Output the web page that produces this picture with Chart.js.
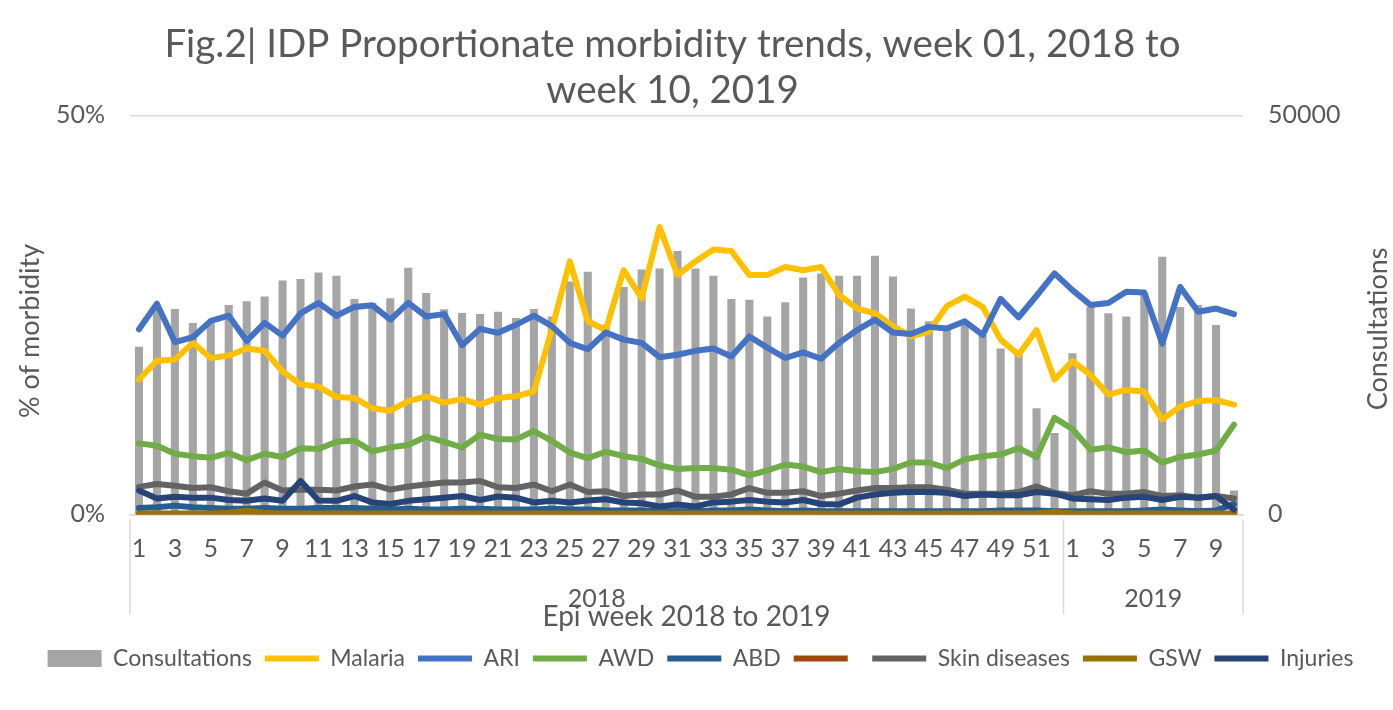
<!DOCTYPE html>
<html>
<head>
<meta charset="utf-8">
<script src="https://cdn.jsdelivr.net/npm/chart.js@4/dist/chart.umd.min.js"></script>
<style>
html,body{margin:0;padding:0;background:#fff;}
#wrap{width:1393px;height:710px;position:relative;}
</style>
</head>
<body>
<div id="wrap"><canvas id="c" width="1393" height="710"></canvas></div>
<script>
// ---- data ----
const years = ['2018', '2019'];
const weeks2018 = Array.from({length: 52}, (_, i) => String(i + 1));
const weeks2019 = ['1','2','3','4','5','6','7','8','9','10'];
const weekLabels = weeks2018.concat(weeks2019);

const consultations = [21000, 26000, 25750, 24000, 24000, 26250, 26700, 27300, 29300, 29500,
  30300, 29900, 27000, 26500, 27100, 30900, 27750, 25700, 25250, 25100,
  25400, 24600, 25750, 24800, 29200, 30400, 23800, 28500, 30700, 30800,
  33000, 30800, 29900, 27000, 26900, 24800, 26600, 29700, 30200, 29900,
  29900, 32400, 29800, 25800, 24200, 23100, 24000, 22500, 20800, 20000,
  13300, 10200,
  20200, 26000, 25200, 24800, 27700, 32300, 26000, 26250, 23750, 3000];

const malaria = [16.9, 19.25, 19.4, 21.5, 19.6, 19.9, 20.8, 20.5, 17.9, 16.3,
  16.0, 14.7, 14.6, 13.3, 13.0, 14.2, 14.8, 14.0, 14.45, 13.75,
  14.6, 14.8, 15.4, 23.2, 31.7, 24.2, 23.1, 30.6, 27.1, 36.0,
  30.0, 31.7, 33.2, 33.0, 30.0, 30.0, 31.0, 30.6, 31.0, 27.5,
  25.8, 25.2, 23.6, 22.3, 22.9, 26.1, 27.3, 26.0, 21.9, 20.0,
  23.1, 16.9,
  19.2, 17.5, 15.0, 15.6, 15.4, 11.9, 13.5, 14.2, 14.3, 13.75];

const ari = [23.2, 26.4, 21.6, 22.2, 24.25, 24.9, 21.75, 24.0, 22.4, 25.2,
  26.5, 24.9, 26.0, 26.2, 24.4, 26.5, 24.8, 25.1, 21.2, 23.25,
  22.75, 23.75, 24.9, 23.6, 21.5, 20.7, 22.8, 21.9, 21.5, 19.7,
  20.0, 20.5, 20.8, 19.8, 22.3, 20.9, 19.6, 20.3, 19.5, 21.5,
  23.1, 24.4, 22.8, 22.6, 23.5, 23.3, 24.2, 22.5, 27.0, 24.7,
  27.4, 30.2,
  28.1, 26.25, 26.5, 27.9, 27.8, 21.4, 28.5, 25.4, 25.8, 25.1];

const awd = [8.9, 8.6, 7.6, 7.3, 7.1, 7.7, 6.8, 7.6, 7.2, 8.3,
  8.2, 9.1, 9.25, 7.9, 8.4, 8.7, 9.75, 9.1, 8.4, 10.0,
  9.45, 9.4, 10.45, 9.2, 7.75, 7.05, 7.85, 7.3, 6.95, 6.15,
  5.7, 5.8, 5.8, 5.6, 4.9, 5.5, 6.25, 6.0, 5.3, 5.7,
  5.4, 5.3, 5.7, 6.5, 6.5, 5.8, 6.9, 7.3, 7.5, 8.3,
  7.2, 12.1,
  10.7, 8.1, 8.4, 7.8, 8.0, 6.5, 7.2, 7.5, 8.0, 11.25];

const abd = [0.8, 0.9, 1.1, 0.9, 0.8, 0.7, 0.7, 0.8, 0.7, 0.7,
  0.8, 0.8, 0.8, 0.7, 0.6, 0.7, 0.6, 0.6, 0.7, 0.7,
  0.6, 0.6, 0.6, 0.7, 0.6, 0.6, 0.5, 0.5, 0.5, 0.4,
  0.4, 0.4, 0.5, 0.5, 0.6, 0.5, 0.4, 0.5, 0.4, 0.4,
  0.4, 0.4, 0.4, 0.4, 0.4, 0.4, 0.4, 0.4, 0.5, 0.5,
  0.5, 0.4,
  0.4, 0.4, 0.4, 0.4, 0.5, 0.6, 0.5, 0.4, 0.5, 1.3];

const unnamed = [0.05, 0.05, 0.05, 0.05, 0.05, 0.05, 0.05, 0.05, 0.05, 0.05,
  0.05, 0.05, 0.05, 0.05, 0.05, 0.05, 0.05, 0.05, 0.05, 0.05,
  0.05, 0.05, 0.05, 0.05, 0.05, 0.05, 0.05, 0.05, 0.05, 0.05,
  0.05, 0.05, 0.05, 0.05, 0.05, 0.05, 0.05, 0.05, 0.05, 0.05,
  0.05, 0.05, 0.05, 0.05, 0.05, 0.05, 0.05, 0.05, 0.05, 0.05,
  0.05, 0.05,
  0.05, 0.05, 0.05, 0.05, 0.05, 0.05, 0.05, 0.05, 0.05, 0.05];

const skin = [3.45, 3.8, 3.6, 3.3, 3.4, 2.9, 2.6, 4.0, 3.0, 3.1,
  3.1, 3.0, 3.5, 3.75, 3.1, 3.5, 3.75, 4.0, 4.0, 4.2,
  3.4, 3.3, 3.75, 2.9, 3.75, 2.8, 2.9, 2.3, 2.5, 2.5,
  3.0, 2.2, 2.2, 2.5, 3.3, 2.7, 2.7, 2.9, 2.3, 2.6,
  3.0, 3.3, 3.3, 3.4, 3.4, 3.1, 2.6, 2.6, 2.6, 2.8,
  3.5, 2.7,
  2.4, 2.9, 2.6, 2.6, 2.8, 2.3, 2.4, 2.1, 2.3, 2.0];

const gsw = [0.1, 0.1, 0.1, 0.1, 0.1, 0.2, 0.45, 0.2, 0.1, 0.1,
  0.1, 0.1, 0.1, 0.1, 0.1, 0.1, 0.1, 0.1, 0.1, 0.1,
  0.1, 0.1, 0.1, 0.1, 0.1, 0.1, 0.1, 0.1, 0.1, 0.1,
  0.1, 0.1, 0.1, 0.1, 0.1, 0.1, 0.1, 0.1, 0.1, 0.1,
  0.1, 0.1, 0.1, 0.1, 0.1, 0.1, 0.1, 0.1, 0.1, 0.1,
  0.15, 0.3,
  0.1, 0.1, 0.1, 0.1, 0.1, 0.1, 0.1, 0.1, 0.1, 0.1];

const injuries = [3.0, 2.0, 2.2, 2.1, 2.1, 1.8, 1.7, 2.0, 1.7, 4.2,
  1.75, 1.7, 2.3, 1.5, 1.3, 1.7, 1.9, 2.1, 2.3, 1.8,
  2.25, 2.1, 1.5, 1.7, 1.5, 1.75, 1.9, 1.5, 1.4, 1.0,
  1.25, 1.0, 1.5, 1.6, 1.8, 1.6, 1.5, 1.8, 1.3, 1.25,
  2.1, 2.5, 2.7, 2.8, 2.8, 2.7, 2.3, 2.5, 2.4, 2.4,
  2.8, 2.6,
  2.0, 1.9, 1.8, 2.1, 2.2, 1.8, 2.2, 2.1, 2.3, 0.6];

const pctTicks = [0, 50];
const consTicks = [0, 50000];
const axisTitles = { left: '% of morbidity', right: 'Consultations', bottom: 'Epi week 2018 to 2019' };

// ---- chart ----
const FONT = 'Lato, "Open Sans", sans-serif';
const TXT = '#595959';

function lineDs(label, data, color, n) {
  return {
    type: 'line', label, data, yAxisID: 'y',
    borderColor: color, backgroundColor: color,
    borderWidth: 6, pointRadius: 0, pointHoverRadius: 0,
    tension: 0, borderJoinStyle: 'round', borderCapStyle: 'round',
    pointStyle: 'line', order: 20 - n
  };
}

const datasets = [
  { type: 'bar', label: 'Consultations', data: consultations, yAxisID: 'y2',
    backgroundColor: '#A5A5A5', borderWidth: 0, barPercentage: 0.45, categoryPercentage: 1.0,
    pointStyle: 'rect', order: 100 },
  lineDs('Malaria', malaria, '#FFC000', 1),
  lineDs('ARI', ari, '#4472C4', 2),
  lineDs('AWD', awd, '#70AD47', 3),
  lineDs('ABD', abd, '#255E91', 4),
  lineDs('', unnamed, '#9E480E', 5),
  lineDs('Skin diseases', skin, '#636363', 6),
  lineDs('GSW', gsw, '#997300', 7),
  lineDs('Injuries', injuries, '#264478', 8)
];

const yearPlugin = {
  id: 'yearGroups',
  afterLayout(chart) {
    // the reference title sits a little left of the canvas centre
    if (chart.titleBlock) { chart.titleBlock.left -= 56; }
  },
  afterDraw(chart) {
    const x = chart.scales.x, ctx = chart.ctx;
    const n = weeks2018.length;
    const split = (x.getPixelForValue(n - 1) + x.getPixelForValue(n)) / 2;
    const top = x.top + 5, bottom = x.top + 100;
    ctx.save();
    ctx.strokeStyle = '#d9d9d9';
    ctx.lineWidth = 1.5;
    [x.left, split, x.right].forEach(px => {
      ctx.beginPath(); ctx.moveTo(px, top); ctx.lineTo(px, bottom); ctx.stroke();
    });
    ctx.fillStyle = TXT;
    ctx.font = '25px ' + FONT;
    ctx.textAlign = 'center';
    ctx.textBaseline = 'middle';
    ctx.fillText(years[0], (x.left + split) / 2, x.top + 85);
    ctx.fillText(years[1], (split + x.right) / 2, x.top + 85);
    // vertical axis titles, reading bottom to top
    const y = chart.scales.y, y2 = chart.scales.y2;
    const mid = (y.top + y.bottom) / 2 + 16;
    ctx.font = '27px ' + FONT;
    ctx.save();
    ctx.translate(y.left + 18, mid);
    ctx.rotate(-Math.PI / 2);
    ctx.fillText(axisTitles.left, 0, 0);
    ctx.restore();
    ctx.save();
    ctx.translate(y2.right - 11, mid - 2);
    ctx.rotate(-Math.PI / 2);
    ctx.fillText(axisTitles.right, 0, 0);
    ctx.restore();
    ctx.restore();
  }
};

new Chart(document.getElementById('c'), {
  data: { labels: weekLabels, datasets },
  options: {
    responsive: false,
    animation: false,
    layout: { padding: { left: 12, right: 4, top: 10, bottom: 30 } },
    plugins: {
      tooltip: { enabled: false },
      title: {
        display: true,
        text: ['Fig.2| IDP Proportionate morbidity trends, week 01, 2018 to', 'week 10, 2019'],
        color: TXT,
        font: { family: FONT, size: 38.5, weight: 'normal', lineHeight: 1.2 },
        padding: { top: 11, bottom: 2 }
      },
      legend: {
        position: 'bottom',
        labels: {
          color: TXT,
          font: { family: FONT, size: 23 },
          usePointStyle: true,
          pointStyleWidth: 54,
          boxHeight: 17,
          padding: 13,
          sort: (a, b) => a.datasetIndex - b.datasetIndex
        }
      }
    },
    scales: {
      x: {
        offset: true,
        grid: { display: false, drawTicks: false },
        border: { display: true, color: '#d9d9d9', width: 1.5 },
        ticks: {
          autoSkip: false, maxRotation: 0, color: TXT, padding: 20,
          font: { family: FONT, size: 25 },
          callback: function (v, i) {
            const w = parseInt(weekLabels[i], 10);
            return (w % 2 === 1) ? weekLabels[i] : '';
          }
        },
        title: {
          display: true, text: axisTitles.bottom, color: TXT,
          font: { family: FONT, size: 28 },
          padding: { top: 16, bottom: 0 }
        }
      },
      y: {
        position: 'left', min: 0, max: 50,
        afterBuildTicks: s => { s.ticks = pctTicks.map(v => ({ value: v })); },
        afterFit: s => { s.width = 118; },
        grid: { color: '#d9d9d9', lineWidth: 1.5, drawTicks: false },
        border: { display: false },
        ticks: { color: TXT, padding: 25, font: { family: FONT, size: 25 }, callback: v => v + '%' }
      },
      y2: {
        position: 'right', min: 0, max: 50000,
        afterBuildTicks: s => { s.ticks = consTicks.map(v => ({ value: v })); },
        afterFit: s => { s.width = 146; },
        grid: { display: false, drawTicks: false },
        border: { display: false },
        ticks: { color: TXT, padding: 25, font: { family: FONT, size: 25 }, callback: v => String(v) }
      }
    }
  },
  plugins: [yearPlugin]
});
</script>
</body>
</html>
